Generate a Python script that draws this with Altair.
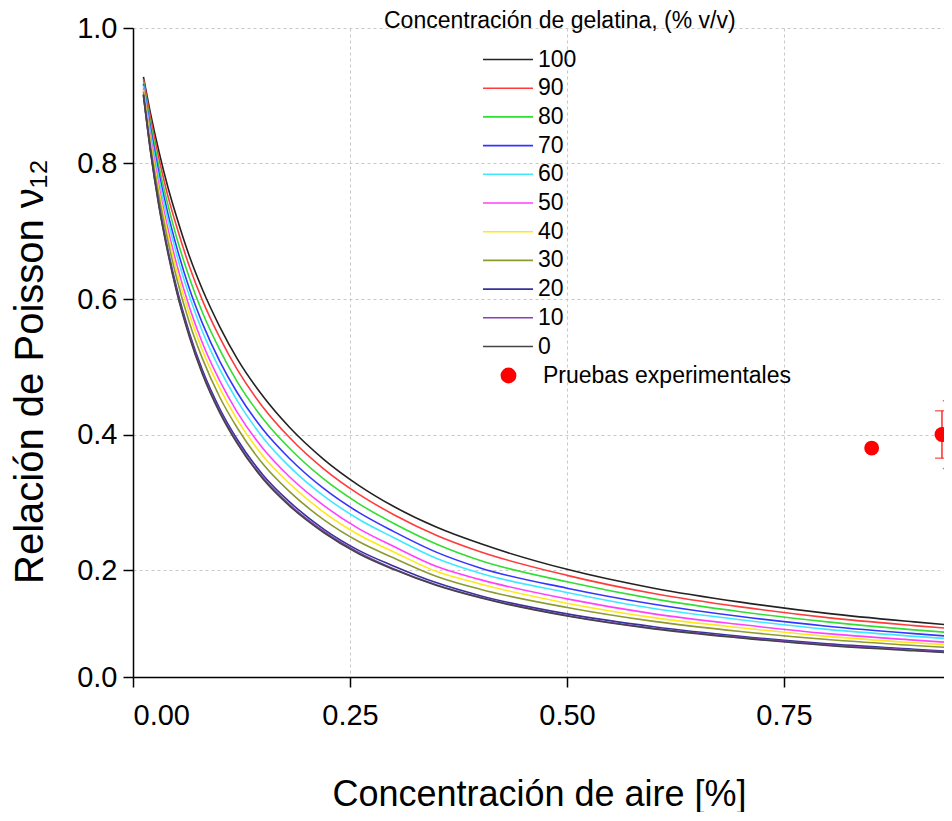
import altair as alt
import pandas as pd

# ---- data ----
air = [0.012, 0.02, 0.03, 0.04, 0.05, 0.065, 0.08, 0.10, 0.12, 0.15, 0.18,
       0.22, 0.26, 0.30, 0.35, 0.40, 0.50, 0.60, 0.70, 0.80, 0.90, 1.00]

gel_levels = ["100", "90", "80", "70", "60", "50", "40", "30", "20", "10", "0"]

nu_100 = [0.928, 0.875, 0.817, 0.766, 0.722, 0.663, 0.614, 0.559, 0.512, 0.456, 0.411,
          0.363, 0.325, 0.294, 0.263, 0.239, 0.201, 0.166, 0.140, 0.119, 0.103, 0.089]
nu_90 = [0.925, 0.868, 0.807, 0.753, 0.708, 0.648, 0.598, 0.543, 0.496, 0.440, 0.396,
         0.349, 0.312, 0.282, 0.251, 0.227, 0.190, 0.156, 0.131, 0.111, 0.096, 0.083]
nu_80 = [0.921, 0.860, 0.795, 0.740, 0.692, 0.631, 0.580, 0.525, 0.478, 0.423, 0.380,
         0.334, 0.298, 0.269, 0.238, 0.214, 0.178, 0.146, 0.122, 0.103, 0.088, 0.076]
nu_70 = [0.917, 0.853, 0.785, 0.727, 0.678, 0.615, 0.564, 0.508, 0.462, 0.407, 0.365,
         0.320, 0.285, 0.257, 0.226, 0.203, 0.166, 0.136, 0.113, 0.095, 0.081, 0.069]
nu_60 = [0.915, 0.847, 0.777, 0.718, 0.667, 0.604, 0.552, 0.496, 0.450, 0.395, 0.353,
         0.309, 0.275, 0.248, 0.217, 0.194, 0.158, 0.128, 0.107, 0.089, 0.076, 0.065]
nu_50 = [0.911, 0.840, 0.766, 0.705, 0.653, 0.588, 0.535, 0.479, 0.433, 0.379, 0.338,
         0.295, 0.261, 0.235, 0.205, 0.182, 0.146, 0.118, 0.098, 0.081, 0.069, 0.058]
nu_40 = [0.909, 0.835, 0.759, 0.696, 0.643, 0.577, 0.524, 0.468, 0.422, 0.368, 0.328,
         0.285, 0.252, 0.227, 0.197, 0.174, 0.138, 0.111, 0.092, 0.076, 0.064, 0.054]
nu_30 = [0.906, 0.829, 0.751, 0.687, 0.632, 0.565, 0.512, 0.455, 0.410, 0.356, 0.316,
         0.274, 0.242, 0.218, 0.188, 0.164, 0.130, 0.104, 0.085, 0.070, 0.059, 0.049]
nu_20 = [0.902, 0.822, 0.740, 0.674, 0.618, 0.550, 0.495, 0.438, 0.393, 0.340, 0.301,
         0.260, 0.229, 0.206, 0.176, 0.152, 0.118, 0.094, 0.076, 0.062, 0.052, 0.042]
nu_10 = [0.901, 0.820, 0.737, 0.671, 0.614, 0.546, 0.491, 0.434, 0.389, 0.336, 0.297,
         0.257, 0.226, 0.202, 0.172, 0.149, 0.115, 0.091, 0.074, 0.060, 0.050, 0.041]
nu_0 = [0.901, 0.819, 0.736, 0.669, 0.612, 0.544, 0.489, 0.432, 0.387, 0.334, 0.295,
        0.255, 0.224, 0.201, 0.171, 0.148, 0.114, 0.090, 0.073, 0.059, 0.049, 0.040]

curves = [nu_100, nu_90, nu_80, nu_70, nu_60, nu_50, nu_40, nu_30, nu_20, nu_10, nu_0]

gel_colors = ["#222222", "#ff3b3b", "#33dd33", "#3535ff", "#40e8ff", "#ff40ff",
              "#ffe81a", "#8c9a30", "#34349c", "#8a3fb8", "#444444"]

legend_title = "Concentración de gelatina, (% v/v)"
exp_label = "Pruebas experimentales"
exp_air = [0.851, 0.932, 0.941]
exp_nu = [0.38, 0.40, 0.40]
exp_err = [0.0, 0.035, 0.05]

# ---- tables ----
rows = []
for lvl, ys in zip(gel_levels, curves):
    for xv, yv in zip(air, ys):
        rows.append({"air": xv, "nu": yv, "gel": lvl})
df = pd.DataFrame(rows)

exp = pd.DataFrame({"air": exp_air, "nu": exp_nu, "err": exp_err})
exp["lo"] = exp["nu"] - exp["err"]
exp["hi"] = exp["nu"] + exp["err"]
exp["label"] = exp_label
exp_bars = exp[exp["err"] > 0]

FONT = "Liberation Sans"
W, H = 811, 649
XMAX = 811 / 868  # visible part of the 0..1 axis

xscale = alt.Scale(domain=[0, XMAX], nice=False, zero=False)
yscale = alt.Scale(domain=[0, 0.2, 1.0], range=[H, H - 107, 0], nice=False, zero=False)

xaxis = alt.Axis(values=[0, 0.25, 0.5, 0.75], format=".2f",
                 title="Concentración de aire [%]", titleX=406, titleY=117,
                 titleAlign="center", titleBaseline="middle", titleFontSize=36,
                 labelPadding=14)
yaxis = alt.Axis(values=[0, 0.2, 0.4, 0.6, 0.8, 1.0], format=".1f",
                 title="Relación de Poisson ν₁₂", titleX=-103, titleY=343,
                 titleAngle=270, titleAlign="center", titleBaseline="middle",
                 titleFontSize=40, labelPadding=6)

lines = alt.Chart(df).mark_line(strokeWidth=1.6, clip=True, interpolate="monotone").encode(
    x=alt.X("air:Q", scale=xscale, axis=xaxis),
    y=alt.Y("nu:Q", scale=yscale, axis=yaxis),
    color=alt.Color("gel:N", sort=gel_levels,
                    scale=alt.Scale(domain=gel_levels, range=gel_colors),
                    legend=alt.Legend(title=legend_title, titleFont=FONT, titleFontSize=23,
                                      titleFontWeight="normal", titleColor="black",
                                      titleAnchor="start", titlePadding=15, titleLimit=600,
                                      orient="none", legendX=251, legendY=-18,
                                      symbolType="M-10,0H10", symbolSize=25,
                                      symbolStrokeWidth=1.6, symbolOffset=112.5,
                                      labelOffset=18.5, labelLimit=300,
                                      labelFontSize=23, labelFont=FONT, rowPadding=4.7,
                                      padding=0)),
    detail="gel:N",
)

bars = alt.Chart(exp_bars).mark_rule(color="#ff2a2a", strokeWidth=1.5).encode(
    x="air:Q", y="lo:Q", y2="hi:Q")
caps_lo = alt.Chart(exp_bars).mark_tick(color="#ff2a2a", orient="horizontal", size=14,
                                        thickness=1.5).encode(x="air:Q", y="lo:Q")
caps_hi = alt.Chart(exp_bars).mark_tick(color="#ff2a2a", orient="horizontal", size=14,
                                        thickness=1.5).encode(x="air:Q", y="hi:Q")

points = alt.Chart(exp).mark_circle(size=220, opacity=1).encode(
    x="air:Q", y="nu:Q",
    fill=alt.Fill("label:N", scale=alt.Scale(domain=[exp_label], range=["#ff0000"]),
                  legend=alt.Legend(title=None, orient="none", legendX=364, legendY=336,
                                    symbolType="circle", symbolSize=250,
                                    symbolStrokeWidth=0, labelOffset=23, labelLimit=400,
                                    labelFontSize=23, labelFont=FONT, padding=0)),
)

chart = alt.layer(lines, bars, caps_lo, caps_hi, points).properties(
    width=W, height=H,
    padding={"left": 125, "top": 20, "right": 0, "bottom": 135},
    autosize=alt.AutoSizeParams(type="none"),
).configure_view(stroke=None).configure_axis(
    labelFont=FONT, titleFont=FONT, labelFontSize=29,
    titleFontWeight="normal", labelColor="black", titleColor="black",
    domainColor="black", domainWidth=1.5, tickColor="black", tickWidth=1.5, tickSize=10,
    gridColor="#c8c8c8", gridDash=[3, 3], gridWidth=1,
).configure_legend(labelColor="black")

chart.save("out.html", embed_options={"renderer": "svg", "actions": False})
